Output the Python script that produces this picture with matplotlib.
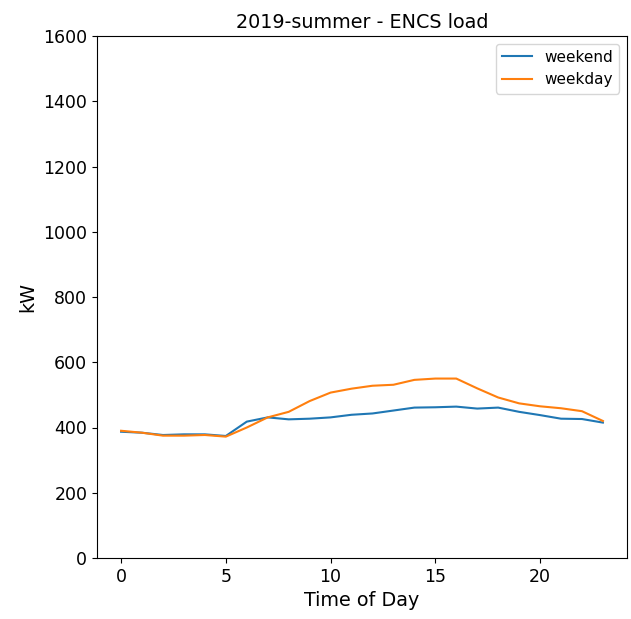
import matplotlib
matplotlib.use("Agg")
import matplotlib.pyplot as plt

hours = list(range(24))
weekend = [387, 384, 377, 379, 379, 374, 418, 431, 425, 427, 431, 439,
           443, 452, 461, 462, 464, 458, 461, 448, 438, 427, 426, 415]
weekday = [390, 384, 375, 375, 377, 372, 400, 431, 448, 481, 507, 519,
           528, 531, 546, 550, 550, 520, 492, 474, 465, 459, 450, 420]

fig = plt.figure(figsize=(6.31, 6.19), dpi=100)
ax = fig.add_axes([97/631, 61/619, 530/631, 522/619])
ax.plot(hours, weekend, color="#1f77b4", lw=1.5, label="weekend")
ax.plot(hours, weekday, color="#ff7f0e", lw=1.5, label="weekday")
ax.set_ylim(0, 1600)
ax.set_yticks(range(0, 1601, 200))
ax.set_xticks([0, 5, 10, 15, 20])
ax.tick_params(labelsize=12.5)
ax.set_xlabel("Time of Day", fontsize=13.8)
ax.set_ylabel("kW", fontsize=13.8)
ax.set_title("2019-summer - ENCS load", fontsize=13.8)
ax.legend(loc="upper right", fontsize=11)
fig.savefig("out.png", dpi=100)
